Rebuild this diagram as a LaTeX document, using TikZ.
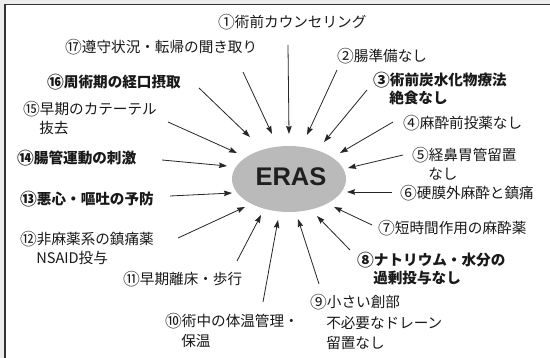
\documentclass[tikz,border=0pt]{standalone}
\usepackage{fontspec}
\usetikzlibrary{arrows.meta,shapes.geometric}
\newfontfamily\jp{Noto Sans CJK JP}
\newfontfamily\erasfont{Liberation Sans}
\newcommand\cnum[1]{\raisebox{-0.05em}{\scalebox{1.15}{#1}}}
\tikzset{
  lbl/.style={font=\jp\fontsize{14.6}{19}\selectfont, inner sep=0pt, anchor=base west, align=left, text=black!90},
  blbl/.style={lbl, font=\jp\bfseries\fontsize{14.6}{18}\selectfont},
  arr/.style={draw=black!85, line width=0.8pt, -{Stealth[length=8pt,width=5.5pt,inset=1pt]}},
}
\begin{document}
\begin{tikzpicture}[x=1pt,y=-1pt]
\useasboundingbox (0,0) rectangle (550,358);
\fill[black!7] (0,0) rectangle (550,358);
\fill[white] (5,4.5) rectangle (550,358);
\draw[black!80, line width=1.3pt] (5,358) -- (5,4.5) -- (550,4.5);

\node[fill=black!27, ellipse, minimum width=114pt, minimum height=66pt, inner sep=0pt] (E) at (289,179) {};
\node[font=\erasfont\bfseries\fontsize{25.5}{25.5}\selectfont, text=black!88] (T) at (291,177) {ERAS};

% labels (anchor = baseline of the last line)
\node[lbl] (L1) at (218,28) {\cnum{①}術前カウンセリング};
\node[lbl] (L17) at (65,53) {\cnum{⑰}遵守状況・転帰の聞き取り};
\node[lbl] (L2) at (337,62) {\cnum{②}腸準備なし};
\node[blbl] (L16) at (47,88) {\cnum{⑯}周術期の経口摂取};
\node[blbl] (L3) at (373,104) {\cnum{③}術前炭水化物療法\\\hspace*{1.1em}絶食なし};
\node[lbl] (L15) at (23,134) {\cnum{⑮}早期のカテーテル\\\hspace*{1.1em}抜去};
\node[lbl] (L4) at (403,129) {\cnum{④}麻酔前投薬なし};
\node[blbl] (L14) at (17,164) {\cnum{⑭}腸管運動の刺激};
\node[lbl] (L5) at (412,180) {\cnum{⑤}経鼻胃管留置\\\hspace*{1.1em}なし};
\node[lbl] (L6) at (400,199) {\cnum{⑥}硬膜外麻酔と鎮痛};
\node[blbl] (L13) at (20,205) {\cnum{⑬}悪心・嘔吐の予防};
\node[lbl] (L7) at (378,234) {\cnum{⑦}短時間作用の麻酔薬};
\node[lbl] (L12) at (20,264) {\cnum{⑫}非麻薬系の鎮痛薬\\\hspace*{1.1em}NSAID投与};
\node[blbl] (L8) at (357,284) {\cnum{⑧}ナトリウム・水分の\\\hspace*{1.1em}過剰投与なし};
\node[lbl] (L11) at (123,285) {\cnum{⑪}早期離床・歩行};
\node[lbl, font=\jp\fontsize{14.6}{20.5}\selectfont] (L9) at (310,349) {\cnum{⑨}小さい創部\\\hspace*{1.1em}不必要なドレーン\\\hspace*{1.1em}留置なし};
\node[lbl, font=\jp\fontsize{14.6}{20}\selectfont] (L10) at (165,347) {\cnum{⑩}術中の体温管理・\\\hspace*{1.1em}保温};

% arrow ends
\coordinate (a1) at (288,45);  \coordinate (b1) at (289,134);
\coordinate (a2) at (337,70);  \coordinate (b2) at (307,135);
\coordinate (a3) at (367,90);  \coordinate (b3) at (324,142);
\coordinate (a4) at (393,122); \coordinate (b4) at (340,153);
\coordinate (a5) at (403,155); \coordinate (b5) at (348,168);
\coordinate (a6) at (392,192); \coordinate (b6) at (347,192);
\coordinate (a7) at (372,225); \coordinate (b7) at (334,207);
\coordinate (a8) at (350,250); \coordinate (b8) at (317,216);
\coordinate (a9) at (319,284); \coordinate (b9) at (298,219);
\coordinate (a10) at (263,302); \coordinate (b10) at (278,220);
\coordinate (a11) at (237,261); \coordinate (b11) at (261,215);
\coordinate (a12) at (178,238); \coordinate (b12) at (245,207);
\coordinate (a13) at (170,196); \coordinate (b13) at (232,193);
\coordinate (a14) at (162,160); \coordinate (b14) at (227,166);
\coordinate (a15) at (168,122); \coordinate (b15) at (237,153);
\coordinate (a16) at (199,88);  \coordinate (b16) at (250,137);
\coordinate (a17) at (243,72);  \coordinate (b17) at (272,134);

\foreach \i in {1,...,17} { \draw[arr] (a\i) -- (b\i); }
\end{tikzpicture}
\end{document}
